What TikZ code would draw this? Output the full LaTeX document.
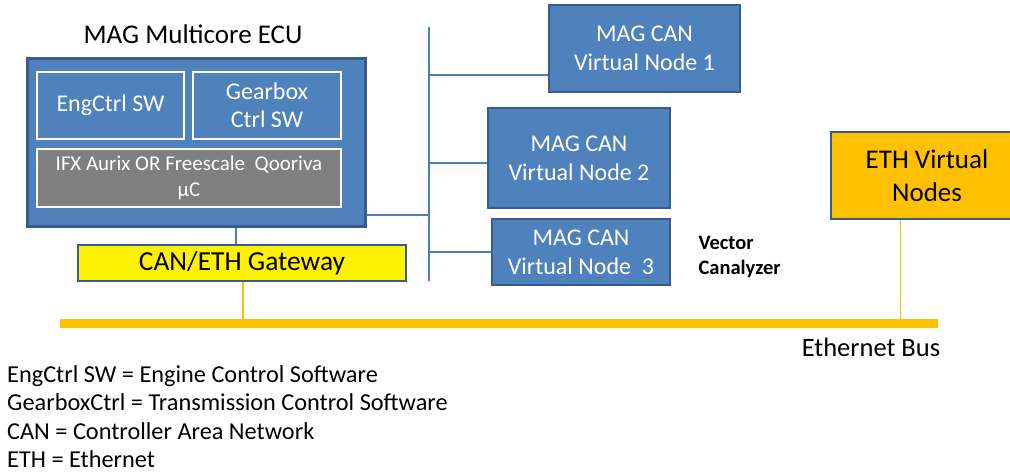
\documentclass[tikz,border=0pt]{standalone}
\usepackage{fontspec}
\setmainfont{Carlito}
\definecolor{ofblue}{HTML}{4F81BD}
\definecolor{ofedge}{HTML}{385D8A}
\definecolor{oflink}{HTML}{4A7EBB}
\definecolor{ofgold}{HTML}{FFC000}
\definecolor{ofgray}{HTML}{7F7F7F}
\tikzset{
  box/.style={draw=ofedge, line width=2.5pt, fill=ofblue, text=white, align=center,
    inner sep=0pt, font=\fontsize{24}{29}\selectfont},
  inbox/.style={draw=white, line width=2pt, fill=ofblue, text=white, align=center,
    inner sep=0pt, font=\fontsize{24}{28}\selectfont},
  canlink/.style={draw=oflink, line width=1.3pt},
  ethlink/.style={draw=ofgold, line width=1.3pt},
}
\begin{document}
\begin{tikzpicture}[x=1pt, y=-1pt]
\useasboundingbox (0,0) rectangle (1010,474);
\clip (0,0) rectangle (1010,474);

% ECU with its software blocks
\node[font=\fontsize{27}{32}\selectfont] (title) at (193,34) {MAG Multicore ECU};
\node[box, line width=3pt, minimum width=338pt, minimum height=168pt] (ecu) at (196,142) {};
\node[inbox, minimum width=147pt, minimum height=67pt] (eng) at (110.5,105.5) {EngCtrl SW};
\node[inbox, minimum width=148pt, minimum height=67pt] (gear) at (267,105.5) {Gearbox\\Ctrl SW};
\node[inbox, fill=ofgray, minimum width=304pt, minimum height=58pt,
      font=\fontsize{21}{26}\selectfont] (ifx) at (189,178) {IFX Aurix OR Freescale\ \ Qooriva\\μC};

% Gateway
\node[box, fill=yellow, text=black, line width=2.5pt, minimum width=328pt, minimum height=36pt,
      font=\fontsize{27.5}{30}\selectfont] (gw) at (242,263) {CAN/ETH Gateway};

% CAN virtual nodes
\node[box, minimum width=191pt, minimum height=87pt] (n1) at (644.5,48.5) {MAG CAN\\Virtual Node 1};
\node[box, minimum width=182pt, minimum height=100pt] (n2) at (579,158) {MAG CAN\\Virtual Node 2};
\node[box, minimum width=178pt, minimum height=66pt] (n3) at (581,252) {MAG CAN\\Virtual Node\ \ 3};
\node[align=left, anchor=west, font=\bfseries\fontsize{20.5}{25}\selectfont] (vc) at (695,257) {Vector\\Canalyzer};

% Ethernet nodes
\node[box, fill=ofgold, text=black, minimum width=192pt, minimum height=87pt,
      font=\fontsize{27}{33}\selectfont] (eth) at (927,175.5) {ETH Virtual\\Nodes};

% CAN bus
\coordinate (cantop) at (429,27);
\coordinate (canbot) at (429,281);
\draw[canlink] (cantop) -- (canbot);
\coordinate (t1) at (429,75);
\coordinate (t2) at (429,163);
\coordinate (t0) at (429,215);
\coordinate (t3) at (429,252);
\draw[canlink] (t1) -- (t1 -| n1.west);
\draw[canlink] (t2) -- (t2 -| n2.west);
\draw[canlink] (t0) -- (t0 -| ecu.east);
\draw[canlink] (t3) -- (t3 -| n3.west);
\coordinate (g1) at (236,0);
\draw[canlink] (ecu.south -| g1) -- (gw.north -| g1);

% Ethernet bus
\coordinate (busl) at (60,323.5);
\coordinate (busr) at (938,323.5);
\draw[draw=ofgold, line width=9pt] (busl) -- (busr);
\coordinate (e1) at (243,323.5);
\coordinate (e2) at (900.5,323.5);
\draw[ethlink] (gw.south -| e1) -- (e1);
\draw[ethlink] (eth.south -| e2) -- (e2);
\node[font=\fontsize{26.5}{30}\selectfont] (busname) at (871,347) {Ethernet Bus};

% Abbreviations
\node[anchor=north west, align=left, inner sep=0pt, font=\fontsize{24.3}{28.6}\selectfont] (legend) at (7,365)
  {EngCtrl SW = Engine Control Software\\
   GearboxCtrl = Transmission Control Software\\
   CAN = Controller Area Network\\
   ETH = Ethernet};
\end{tikzpicture}
\end{document}
